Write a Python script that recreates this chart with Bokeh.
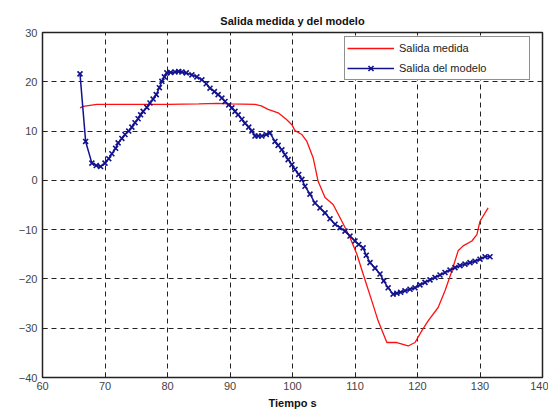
from bokeh.plotting import figure
from bokeh.models import Range1d, FixedTicker, Legend, LegendItem
from bokeh.embed import file_html
from bokeh.resources import INLINE

# Measured output (red)
med_t = [66.0, 66.5, 68.7, 75.0, 80.0, 85.0, 88.0, 90.0, 94.0, 95.0, 96.1, 97.7, 99.0,
         99.9, 100.4, 101.5, 102.3, 103.3, 104.1, 105.2, 106.5, 107.9, 109.2, 110.3,
         111.3, 112.7, 113.7, 115.1, 116.7, 118.5, 119.6, 120.7, 121.7, 123.3, 124.4,
         125.5, 126.5, 127.3, 128.7, 129.5, 130.0, 131.3]
med_y = [14.7, 15.0, 15.4, 15.4, 15.4, 15.5, 15.6, 15.5, 15.4, 15.1, 14.4, 13.7, 12.4,
         11.3, 10.1, 9.3, 7.9, 4.6, -0.2, -3.5, -4.9, -8.3, -11.6, -15.0,
         -19.0, -24.5, -28.5, -32.9, -32.9, -33.6, -32.9, -30.5, -28.5, -25.8, -22.4,
         -18.4, -14.3, -13.3, -12.3, -11.0, -8.3, -5.6]

# Model output (blue, with markers)
mod_t = [66.0, 66.9, 67.9, 68.6, 69.3, 70.0, 70.6, 71.1, 71.7, 72.1, 72.7, 73.2, 73.8,
         74.3, 74.8, 75.3, 75.7, 76.1, 76.7, 77.2, 77.7, 78.2, 78.7, 79.1, 79.5, 79.9,
         80.5, 81.2, 81.8, 82.3, 83.0, 83.9, 84.7, 85.5, 86.2, 86.8, 87.5, 88.1, 88.7,
         89.2, 89.8, 90.3, 90.8, 91.3, 91.9, 92.4, 93.0, 93.5, 94.0, 94.5, 95.1, 95.8,
         96.4, 97.2, 97.7, 98.3, 98.8, 99.3, 99.9, 100.4, 101.0, 101.5, 102.0, 102.8,
         103.6, 104.4, 105.2, 106.0, 106.8, 107.6, 108.4, 109.2, 110.0, 110.6, 111.3,
         111.8, 112.4, 113.2, 114.0, 114.6, 115.3, 116.1, 116.7, 117.3, 118.0, 118.8,
         119.6, 120.4, 121.2, 122.0, 122.8, 123.6, 124.4, 125.2, 126.0, 126.8, 127.6,
         128.4, 129.2, 130.0, 130.8, 131.6]
mod_y = [21.6, 7.9, 3.5, 3.0, 2.8, 3.5, 4.4, 5.4, 6.5, 7.6, 8.5, 9.3, 10.0,
         10.8, 11.7, 12.5, 13.3, 14.0, 14.8, 15.7, 16.5, 17.4, 18.8, 20.1, 21.0, 21.8,
         21.9, 22.0, 22.1, 22.0, 21.8, 21.4, 21.0, 20.4, 19.6, 18.7, 18.0, 17.4, 16.7,
         16.0, 15.3, 14.7, 14.0, 13.3, 12.4, 11.6, 10.8, 10.0, 9.0, 9.0, 9.0, 9.3,
         9.6, 7.9, 7.1, 6.2, 5.2, 4.2, 3.2, 2.2, 1.2, 0.2, -1.2, -2.8,
         -4.6, -5.6, -6.6, -7.8, -8.9, -9.6, -10.3, -11.3, -12.3, -13.0, -13.7,
         -15.2, -16.7, -17.8, -19.0, -20.4, -21.8, -23.1, -22.9, -22.7, -22.4, -22.1,
         -21.8, -21.2, -20.7, -20.2, -19.7, -19.2, -18.7, -18.2, -17.7, -17.3, -17.0,
         -16.7, -16.4, -16.0, -15.5, -15.5]

x_ticks = [60, 70, 80, 90, 100, 110, 120, 130, 140]
y_ticks = [-40, -30, -20, -10, 0, 10, 20, 30]

title_text = "Salida medida y del modelo"
x_label = "Tiempo s"
legend_labels = ["Salida medida", "Salida del modelo"]

FONT = "Liberation Sans"
BLUE = "#12128f"
RED = "#ff1010"

p = figure(width=548, height=416, output_backend="svg", toolbar_location=None,
           x_range=Range1d(60, 140), y_range=Range1d(-40, 30),
           min_border_left=42, min_border_right=6, min_border_top=32, min_border_bottom=39,
           background_fill_color="white", border_fill_color="white")

p.title.text = title_text
p.title.align = "center"
p.title.text_font = FONT
p.title.text_font_size = "11px"
p.title.text_font_style = "bold"
p.title.text_color = "#111111"
p.title.offset = 0
p.title.standoff = 11

p.outline_line_color = "#222222"
p.outline_line_width = 1.5

for ax in (p.xaxis[0], p.yaxis[0]):
    ax.axis_line_color = None
    ax.major_tick_in = 5
    ax.major_tick_out = 0
    ax.minor_tick_line_color = None
    ax.major_tick_line_color = "#222222"
    ax.major_label_text_font = FONT
    ax.major_label_text_font_size = "11px"
    ax.major_label_text_color = "#444444"

p.xaxis.ticker = FixedTicker(ticks=x_ticks)
p.yaxis.ticker = FixedTicker(ticks=y_ticks)
p.xaxis.major_label_standoff = 4
p.yaxis.major_label_standoff = 5
p.xaxis.axis_label = x_label
p.xaxis.axis_label_text_font = FONT
p.xaxis.axis_label_text_font_size = "11px"
p.xaxis.axis_label_text_font_style = "bold"
p.xaxis.axis_label_text_color = "#111111"
p.xaxis.axis_label_standoff = 4

p.grid.grid_line_color = "#222222"
p.grid.grid_line_dash = "5 4"
p.grid.grid_line_width = 1

r_med = p.line(med_t, med_y, line_color=RED, line_width=1.3)
r_mod = p.line(mod_t, mod_y, line_color=BLUE, line_width=1.5)
r_mk = p.scatter(mod_t, mod_y, marker="x", size=7, line_color=BLUE, line_width=1.6)

legend = Legend(items=[LegendItem(label=legend_labels[0], renderers=[r_med]),
                       LegendItem(label=legend_labels[1], renderers=[r_mod, r_mk])],
                location=(302, 297))
legend.border_line_color = "#222222"
legend.border_line_width = 1.2
legend.background_fill_color = "white"
legend.background_fill_alpha = 1
legend.label_text_font = FONT
legend.label_text_font_size = "11px"
legend.label_text_color = "#222222"
legend.glyph_width = 47
legend.glyph_height = 18
legend.label_height = 18
legend.label_width = 128
legend.spacing = 2
legend.padding = 2
legend.margin = 0
legend.label_standoff = 5
p.add_layout(legend, "center")

open("out.html", "w").write(file_html(p, INLINE))
